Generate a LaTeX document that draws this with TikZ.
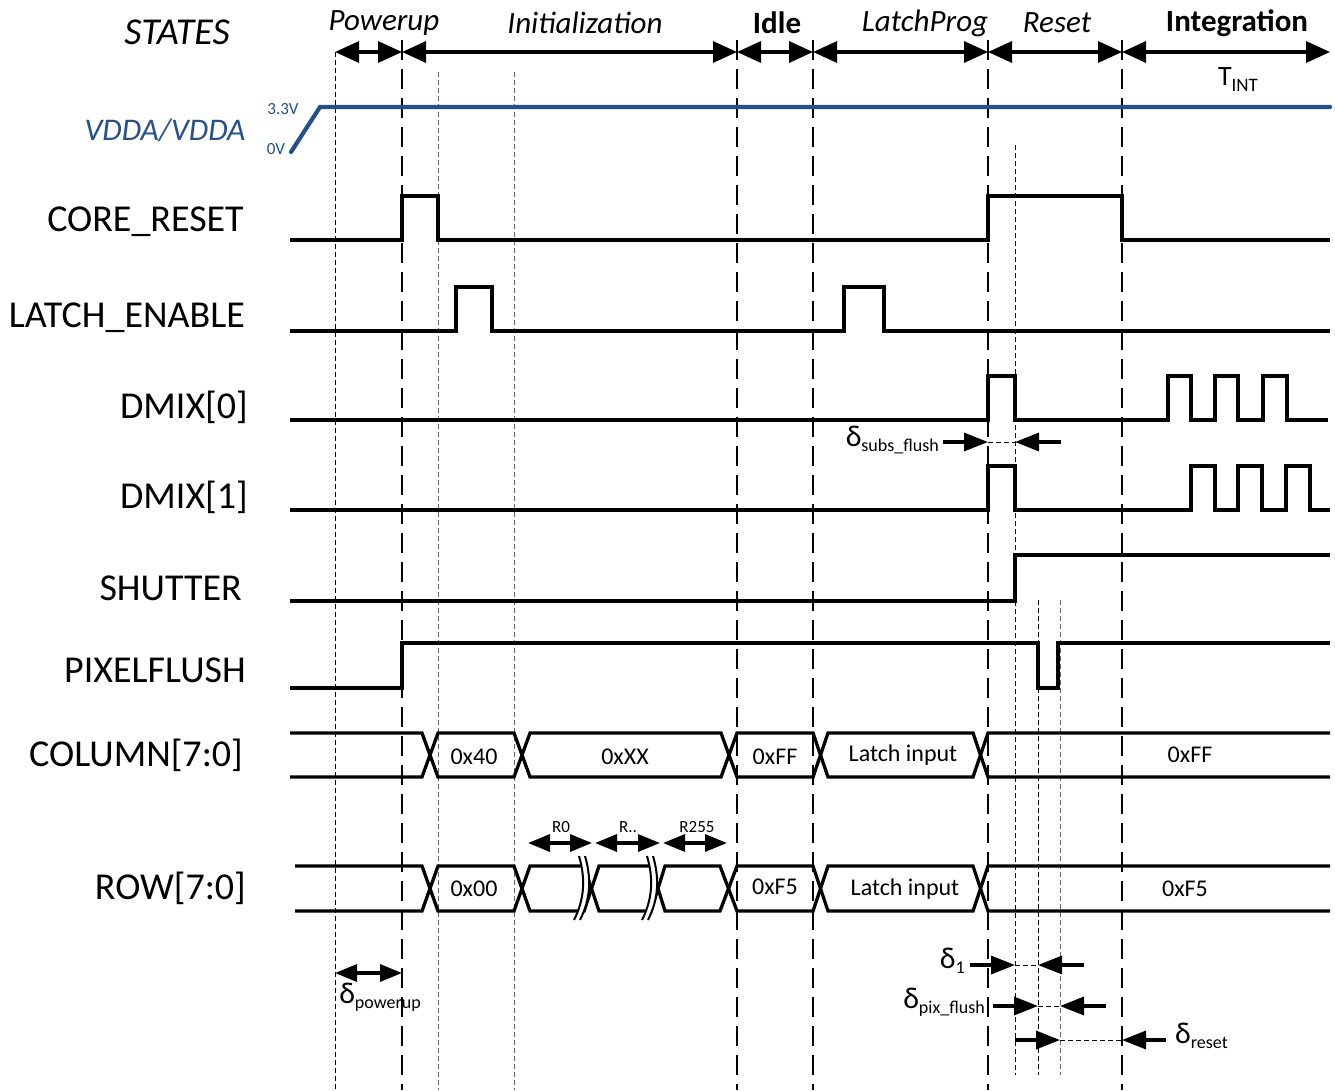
\documentclass[tikz,border=0pt]{standalone}
\usepackage{fontspec}
\setmainfont{Carlito}
\usetikzlibrary{arrows.meta}
\definecolor{vblue}{RGB}{37,80,140}
\newcommand{\dsub}[1]{{\fontsize{30}{32}\selectfont δ}\raisebox{-5pt}{\fontsize{18}{19}\selectfont #1}}
\begin{document}
\begin{tikzpicture}[x=1pt,y=-1pt,
  sig/.style={line width=3.3pt, line join=miter},
  bigdash/.style={line width=2.6pt, dash pattern=on 20pt off 9pt},
  thindash/.style={line width=1pt, dash pattern=on 5pt off 3pt},
  graydash/.style={line width=1pt, dash pattern=on 5pt off 3pt, draw=black!60},
  dimarr/.style={line width=3.3pt, {Triangle[length=24pt,width=21pt]}-{Triangle[length=24pt,width=21pt]}},
  smallarr/.style={line width=3.3pt, {Triangle[length=22pt,width=17pt]}-{Triangle[length=22pt,width=17pt]}},
  rarr/.style={line width=3.3pt, -{Triangle[length=24pt,width=18pt]}},
  gap/.style={line width=1pt, dash pattern=on 5pt off 3pt},
  lab/.style={anchor=east, font=\fontsize{38}{42}\selectfont, inner sep=0pt},
  state/.style={font=\fontsize{31}{35}\selectfont\itshape, inner sep=0pt},
  bstate/.style={font=\fontsize{31}{35}\selectfont\bfseries, inner sep=0pt},
  val/.style={font=\fontsize{24}{26}\selectfont, inner sep=0pt},
  rlab/.style={font=\fontsize{17}{18}\selectfont, inner sep=0pt},
  dlab/.style={inner sep=0pt}
]
\fill[white] (0,0) rectangle (1335,1090);
\useasboundingbox (0,0) rectangle (1335,1090);

% time coordinates
\coordinate (a0) at (335,52);
\coordinate (a1) at (402,52);
\coordinate (a2) at (737,52);
\coordinate (a3) at (813,52);
\coordinate (a4) at (988,52);
\coordinate (a5) at (1122,52);
\coordinate (a6) at (1330,52);

% vertical guide lines
\foreach \x in {402,737,813,988,1122} \draw[bigdash] (\x,40) -- (\x,1090);
\draw[thindash] (335,52) -- (335,1090);
\draw[graydash] (438,72) -- (438,1090);
\draw[graydash] (514,72) -- (514,1090);
\draw[thindash] (1015,145) -- (1015,1075);
\draw[thindash] (1038,600) -- (1038,1075);
\draw[graydash] (1060,600) -- (1060,1075);

% states
\node[font=\fontsize{38}{42}\selectfont\itshape, inner sep=0pt] (st) at (177,32) {STATES};
\node[state] (sPow) at (384,23) {Powerup};
\node[state] (sInit) at (585,23) {Initialization};
\node[bstate] (sIdle) at (777,23) {Idle};
\node[state] (sLP) at (925,23) {LatchProg};
\node[state] (sRes) at (1057,23) {Reset};
\node[bstate] (sInt) at (1237,23) {Integration};
\node[inner sep=0pt] (tint) at (1238,80) {{\fontsize{28}{30}\selectfont T}\raisebox{-6pt}{\fontsize{19}{20}\selectfont INT}};
\draw[dimarr] (a0) -- (a1);
\draw[dimarr] (a1) -- (a2);
\draw[dimarr] (a2) -- (a3);
\draw[dimarr] (a3) -- (a4);
\draw[dimarr] (a4) -- (a5);
\draw[dimarr] (a5) -- (a6);

% VDDA
\node[font=\fontsize{31.5}{35}\selectfont\itshape, text=vblue, inner sep=0pt] (vdda) at (165,130) {VDDA/VDDA};
\node[rlab, text=vblue] (v33) at (283,109) {3.3V};
\node[rlab, text=vblue] (v0) at (276,149) {0V};
\draw[vblue, line width=4.2pt, line cap=round] (291,152) -- (320,107) -- (1330,107);

% signal labels
\node[lab] (lcr) at (244,222) {CORE\_RESET};
\node[lab] (lle) at (245,318) {LATCH\_ENABLE};
\node[lab] (ld0) at (248,407) {DMIX[0]};
\node[lab] (ld1) at (248,497) {DMIX[1]};
\node[lab] (lsh) at (242,588) {SHUTTER};
\node[lab] (lpf) at (246,670) {PIXELFLUSH};
\node[lab] (lcol) at (243,755) {COLUMN[7:0]};
\node[lab] (lrow) at (246,888) {ROW[7:0]};

% waveforms
\draw[sig] (290,240) -- (402,240) -- (402,196) -- (438,196) -- (438,240) -- (988,240) -- (988,196) -- (1122,196) -- (1122,240) -- (1330,240);
\draw[sig] (290,331) -- (456,331) -- (456,287) -- (492,287) -- (492,331) -- (844,331) -- (844,287) -- (884,287) -- (884,331) -- (1330,331);
\draw[sig] (290,420) -- (988,420) -- (988,376) -- (1015,376) -- (1015,420) -- (1168,420) -- (1168,376) -- (1191,376) -- (1191,420)
  -- (1215,420) -- (1215,376) -- (1238,376) -- (1238,420) -- (1263,420) -- (1263,376) -- (1287,376) -- (1287,420) -- (1328,420);
\draw[sig] (290,510) -- (988,510) -- (988,466) -- (1015,466) -- (1015,510) -- (1191,510) -- (1191,466) -- (1215,466) -- (1215,510)
  -- (1238,510) -- (1238,466) -- (1262,466) -- (1262,510) -- (1286,510) -- (1286,466) -- (1310,466) -- (1310,510) -- (1330,510);
\draw[sig] (290,601) -- (1015,601) -- (1015,555) -- (1330,555);
\draw[sig] (290,688) -- (402,688) -- (402,643) -- (1038,643) -- (1038,688) -- (1058,688) -- (1058,643) -- (1330,643);

% COLUMN bus
\draw[sig] (290,733) -- (422,733) -- (438,777) -- (514,777) -- (530,733) -- (721,733) -- (737,777) -- (813,777) -- (828,733) -- (973,733) -- (988,777) -- (1330,777);
\draw[sig] (290,777) -- (422,777) -- (438,733) -- (514,733) -- (530,777) -- (721,777) -- (737,733) -- (813,733) -- (828,777) -- (973,777) -- (988,733) -- (1330,733);
\node[val] (c1) at (474,757) {0x40};
\node[val] (c2) at (625,757) {0xXX};
\node[val] (c3) at (775,757) {0xFF};
\node[val] (c4) at (903,755) {Latch input};
\node[val] (c5) at (1190,755) {0xFF};

% ROW bus
\draw[sig] (295,866) -- (422,866) -- (438,911) -- (514,911) -- (530,866) -- (584,866) -- (599,911) -- (651,911) -- (665,866) -- (720,866) -- (737,911) -- (813,911) -- (828,866) -- (973,866) -- (988,911) -- (1330,911);
\draw[sig] (295,911) -- (422,911) -- (438,866) -- (514,866) -- (530,911) -- (584,911) -- (599,866) -- (651,866) -- (665,911) -- (720,911) -- (737,866) -- (813,866) -- (828,911) -- (973,911) -- (988,866) -- (1330,866);
\node[val] (r1) at (474,889) {0x00};
\node[val] (r2) at (775,887) {0xF5};
\node[val] (r3) at (905,889) {Latch input};
\node[val] (r4) at (1185,889) {0xF5};
% break marks
\foreach \bx in {578,646} {
  \draw[white, line width=5pt] (\bx+4,856) .. controls (\bx+11,880) and (\bx+9,900) .. (\bx-1,920);
  \draw[line width=2pt] (\bx+1,856) .. controls (\bx+8,880) and (\bx+6,900) .. (\bx-4,920);
  \draw[line width=2pt] (\bx+7,856) .. controls (\bx+14,880) and (\bx+12,900) .. (\bx+2,920);
}
% R arrows
\coordinate (ra0) at (528,843); \coordinate (ra1) at (592,843);
\coordinate (rb0) at (595,843); \coordinate (rb1) at (660,843);
\coordinate (rc0) at (663,843); \coordinate (rc1) at (727,843);
\draw[smallarr] (ra0) -- (ra1);
\draw[smallarr] (rb0) -- (rb1);
\draw[smallarr] (rc0) -- (rc1);
\node[rlab] (rl0) at (561,827) {R0};
\node[rlab] (rl1) at (628,827) {R..};
\node[rlab] (rl2) at (697,827) {R255};

% delta subs_flush
\node[dlab, anchor=east] (dsf) at (939,440) {\dsub{subs\_flush}};
\coordinate (sf1) at (988,442); \coordinate (sf2) at (1015,442);
\coordinate (sf3) at (1061,442);
\draw[rarr] (943,442) -- (sf1);
\draw[rarr] (sf3) -- (sf2);
\draw[gap] (sf1) -- (sf2);

% delta powerup
\coordinate (dp0) at (335,973); \coordinate (dp1) at (402,973);
\draw[smallarr] (dp0) -- (dp1);
\node[dlab] (dpl) at (380,997) {\dsub{powerup}};

% delta 1
\node[dlab, anchor=east] (d1l) at (965,961) {\dsub{1}};
\coordinate (d1a) at (1015,965); \coordinate (d1b) at (1038,965); \coordinate (d1c) at (1084,965);
\draw[rarr] (970,965) -- (d1a);
\draw[rarr] (d1c) -- (d1b);
\draw[gap] (d1a) -- (d1b);

% delta pix_flush
\node[dlab, anchor=east] (dpf) at (985,1002) {\dsub{pix\_flush}};
\coordinate (pfa) at (993,1006); \coordinate (pfb) at (1038,1006); \coordinate (pfc) at (1060,1006); \coordinate (pfd) at (1106,1006);
\draw[rarr] (pfa) -- (pfb);
\draw[rarr] (pfd) -- (pfc);
\draw[gap] (pfb) -- (pfc);

% delta reset
\node[dlab, anchor=west] (drs) at (1175,1036) {\dsub{reset}};
\coordinate (rsa) at (1015,1040); \coordinate (rsb) at (1060,1040); \coordinate (rsc) at (1122,1040);
\draw[rarr] (rsa) -- (rsb);
\draw[rarr] (1166,1040) -- (rsc);
\draw[gap] (rsb) -- (rsc);
\end{tikzpicture}
\end{document}
